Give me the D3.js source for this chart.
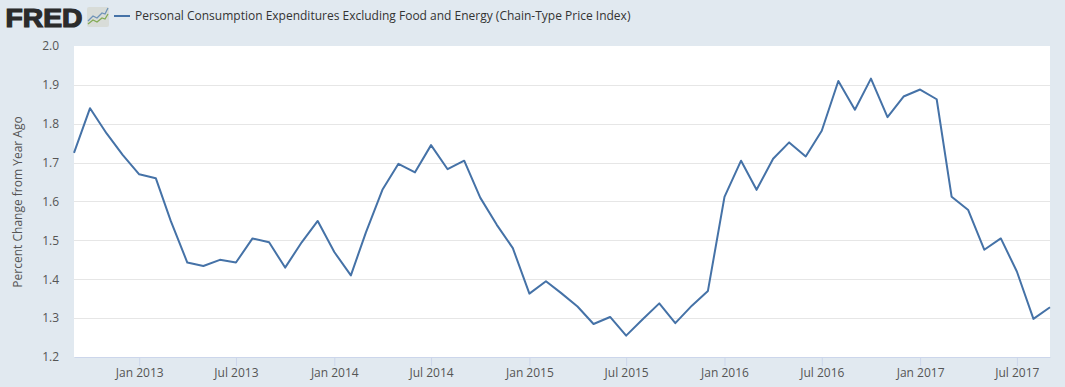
<!DOCTYPE html>
<html>
<head>
<meta charset="utf-8">
<script src="https://cdn.jsdelivr.net/npm/d3@7"></script>
<style>
  html, body { margin: 0; padding: 0; background: #e1e9f0; overflow: hidden; }
  text { font-family: "Open Sans", sans-serif; }
</style>
</head>
<body>
<div id="chart"></div>
<script>
const startMonth = '2012-09-01';
const endMonth = '2017-09-01';
const values = [
  1.725, 1.84, 1.775, 1.72, 1.67, 1.66, 1.55, 1.443, 1.434, 1.45, 1.443, 1.505, 1.495,
  1.43, 1.495, 1.55, 1.47, 1.41, 1.52, 1.63, 1.697, 1.675, 1.745, 1.683, 1.705,
  1.61, 1.54, 1.48, 1.363, 1.395, 1.365, 1.33, 1.285, 1.303, 1.255, 1.297, 1.338,
  1.287, 1.332, 1.37, 1.612, 1.705, 1.63, 1.71, 1.752, 1.716, 1.782, 1.91, 1.836,
  1.916, 1.817, 1.87, 1.888, 1.863, 1.612, 1.578, 1.476, 1.505, 1.42, 1.298, 1.328
];
const yTicks = [1.2, 1.3, 1.4, 1.5, 1.6, 1.7, 1.8, 1.9, 2.0];
const xTickDates = ['2013-01-01', '2013-07-01', '2014-01-01', '2014-07-01', '2015-01-01',
  '2015-07-01', '2016-01-01', '2016-07-01', '2017-01-01', '2017-07-01'];
const seriesName = 'Personal Consumption Expenditures Excluding Food and Energy (Chain-Type Price Index)';
const yTitle = 'Percent Change from Year Ago';

const width = 1065, height = 387;
const margin = { top: 46, right: 15, bottom: 30, left: 74 };
const w = width - margin.left - margin.right;
const h = height - margin.top - margin.bottom;

const parse = d3.utcParse('%Y-%m-%d');
const months = d3.utcMonth.range(parse(startMonth), d3.utcMonth.offset(parse(endMonth), 1));
const data = months.map((date, i) => ({ date, value: values[i] }));

const svg = d3.select('#chart').append('svg')
  .attr('width', width)
  .attr('height', height)
  .style('display', 'block');

svg.append('rect').attr('width', width).attr('height', height).attr('fill', '#e1e9f0');

// logo
svg.append('text').attr('x', 5.5).attr('y', 26.5)
  .attr('textLength', 77).attr('lengthAdjust', 'spacingAndGlyphs')
  .style('font-family', '"Liberation Sans", sans-serif')
  .style('font-size', '25px').style('font-weight', 700)
  .attr('fill', '#2b2b2b').attr('stroke', '#2b2b2b').attr('stroke-width', 1.2)
  .text('FRED');

const icon = svg.append('g').attr('transform', 'translate(87,7)');
icon.append('rect').attr('width', 22).attr('height', 20).attr('rx', 2).attr('fill', '#d8dcd8');
icon.append('path').attr('d', 'M1,14 L6,9 L10,11 L15,6 L18,7 L21,1')
  .attr('fill', 'none').attr('stroke', '#6f93b8').attr('stroke-width', 1.3);
icon.append('path').attr('d', 'M1,17 L6,13 L10,15 L15,11 L18,12 L21,7')
  .attr('fill', 'none').attr('stroke', '#83ab55').attr('stroke-width', 1.3);

// legend
svg.append('line').attr('x1', 114).attr('x2', 130).attr('y1', 16).attr('y2', 16)
  .attr('stroke', '#4572a7').attr('stroke-width', 2);
svg.append('text').attr('x', 135).attr('y', 20)
  .style('font-size', '12px').attr('fill', '#333333')
  .text(seriesName);

const g = svg.append('g').attr('transform', `translate(${margin.left},${margin.top})`);
g.append('rect').attr('width', w).attr('height', h).attr('fill', '#ffffff');

const x = d3.scaleUtc()
  .domain([parse(startMonth), parse(endMonth)])
  .range([0, w]);

const y = d3.scaleLinear()
  .domain([1.2, 2.0])
  .range([h, 0]);

// y axis + grid
const yAxis = g.append('g')
  .call(d3.axisLeft(y).tickValues(yTicks).tickFormat(d3.format('.1f')).tickSize(0).tickPadding(15));
yAxis.select('.domain').remove();
yAxis.selectAll('text').style('font-size', '12px').style('font-family', '"Open Sans", sans-serif').attr('fill', '#555555');

g.append('g').selectAll('line')
  .data(yTicks.filter(d => d > 1.2 && d < 2.0))
  .join('line')
  .attr('x1', 0).attr('x2', w)
  .attr('y1', d => Math.round(y(d)) + 0.5).attr('y2', d => Math.round(y(d)) + 0.5)
  .attr('stroke', '#e6e6e6');

// x axis
const xAxis = g.append('g')
  .attr('transform', `translate(0,${h})`)
  .call(d3.axisBottom(x)
    .tickValues(xTickDates.map(parse))
    .tickFormat(d3.utcFormat('%b %Y'))
    .tickSizeOuter(0).tickSizeInner(9).tickPadding(2));
xAxis.select('.domain').attr('stroke', '#ccd6eb');
xAxis.selectAll('.tick line').attr('stroke', '#ccd6eb');
xAxis.selectAll('text').style('font-size', '12px').style('font-family', '"Open Sans", sans-serif').attr('fill', '#555555');

// series
const line = d3.line()
  .x(d => x(d.date))
  .y(d => y(d.value));

g.append('path')
  .datum(data)
  .attr('fill', 'none')
  .attr('stroke', '#4572a7')
  .attr('stroke-width', 2)
  .attr('stroke-linejoin', 'round')
  .attr('d', line);

// y title
svg.append('text')
  .attr('transform', 'translate(22,202) rotate(-90)')
  .attr('text-anchor', 'middle')
  .style('font-size', '12px').attr('fill', '#555555')
  .text(yTitle);
</script>
</body>
</html>
